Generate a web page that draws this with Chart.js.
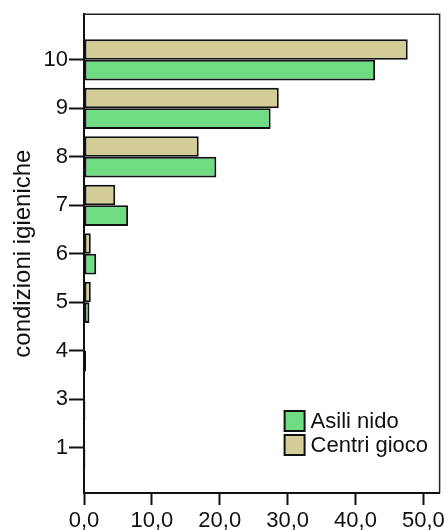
<!DOCTYPE html>
<html>
<head>
<meta charset="utf-8">
<script src="https://cdn.jsdelivr.net/npm/chart.js@4.4.0/dist/chart.umd.min.js"></script>
<style>
  body { margin: 0; background: #fff; }
  canvas { display: block; }
</style>
</head>
<body>
<canvas id="chart" width="448" height="530"></canvas>
<script>
// categories (top to bottom) and series
var categories = ['10', '9', '8', '7', '6', '5', '4', '3', '1'];
var centriGioco = [47.7, 28.7, 16.9, 4.6, 1.0, 1.0, 0, 0, 0];
var asiliNido = [42.9, 27.5, 19.5, 6.5, 1.8, 0.8, 0.3, 0.2, 0.2];
var xTicks = [0, 10, 20, 30, 40, 50];

var font = 'Liberation Sans, Arial, sans-serif';

function points(values) {
    return values.map(function (v, i) { return { x: v, y: i }; });
}

// draws the thin top/right frame and the legend inside the plot
var framePlugin = {
    id: 'frame',
    afterDraw: function (chart) {
        var ctx = chart.ctx, a = chart.chartArea;
        ctx.save();
        ctx.strokeStyle = '#222';
        ctx.lineWidth = 1.5;
        ctx.beginPath();
        ctx.moveTo(a.left, a.top);
        ctx.lineTo(a.right, a.top);
        ctx.lineTo(a.right, a.bottom);
        ctx.stroke();

        // legend: Asili nido first, then Centri gioco
        var order = [1, 0];
        var x = a.right - 155, y = a.bottom - 82;
        ctx.font = '22px ' + font;
        ctx.textBaseline = 'middle';
        order.forEach(function (di, k) {
            var ds = chart.data.datasets[di];
            var top = y + k * 24;
            ctx.fillStyle = ds.backgroundColor;
            ctx.fillRect(x, top, 20, 20);
            ctx.lineWidth = 2;
            ctx.strokeStyle = '#111';
            ctx.strokeRect(x, top, 20, 20);
            ctx.fillStyle = '#111';
            ctx.fillText(ds.label, x + 26, top + 11);
        });
        ctx.restore();
    }
};

new Chart(document.getElementById('chart'), {
    type: 'bar',
    data: {
        datasets: [
            {
                label: 'Centri gioco',
                data: points(centriGioco),
                backgroundColor: '#D3CE97',
                borderColor: '#111',
                borderWidth: 2,
                borderSkipped: false
            },
            {
                label: 'Asili nido',
                data: points(asiliNido),
                backgroundColor: '#6FDC84',
                borderColor: '#111',
                borderWidth: 2,
                borderSkipped: false
            }
        ]
    },
    options: {
        indexAxis: 'y',
        responsive: false,
        animation: false,
        layout: { padding: { top: 14, right: 6, left: 0, bottom: 0 } },
        categoryPercentage: 0.85,
        barPercentage: 1,
        plugins: {
            legend: { display: false },
            tooltip: { enabled: false }
        },
        scales: {
            y: {
                type: 'linear',
                reverse: true,
                offset: false,
                min: -0.94,
                max: 8.93,
                afterBuildTicks: function (scale) {
                    scale.ticks = categories.map(function (c, i) { return { value: i }; });
                },
                afterFit: function (scale) { scale.width = 84; },
                ticks: {
                    color: '#111',
                    padding: 1,
                    font: { family: font, size: 22 },
                    callback: function (v) { return categories[v]; }
                },
                grid: {
                    offset: false,
                    drawOnChartArea: false,
                    drawTicks: true,
                    tickLength: 15,
                    tickWidth: 2,
                    tickColor: '#111'
                },
                border: { display: true, color: '#111', width: 2 },
                title: {
                    display: true,
                    text: 'condizioni igieniche',
                    color: '#111',
                    font: { family: font, size: 24 },
                    padding: { top: 9, bottom: 0 }
                }
            },
            x: {
                type: 'linear',
                min: 0,
                max: 52.4,
                afterBuildTicks: function (scale) {
                    scale.ticks = xTicks.map(function (v) { return { value: v }; });
                },
                afterFit: function (scale) { scale.height = 37; },
                ticks: {
                    color: '#111',
                    padding: 3,
                    maxRotation: 0,
                    font: { family: font, size: 22 },
                    callback: function (v) { return v.toFixed(1).replace('.', ','); }
                },
                grid: {
                    drawOnChartArea: false,
                    drawTicks: true,
                    tickLength: 12,
                    tickWidth: 2,
                    tickColor: '#111'
                },
                border: { display: true, color: '#111', width: 2 }
            }
        }
    },
    plugins: [framePlugin]
});
</script>
</body>
</html>
